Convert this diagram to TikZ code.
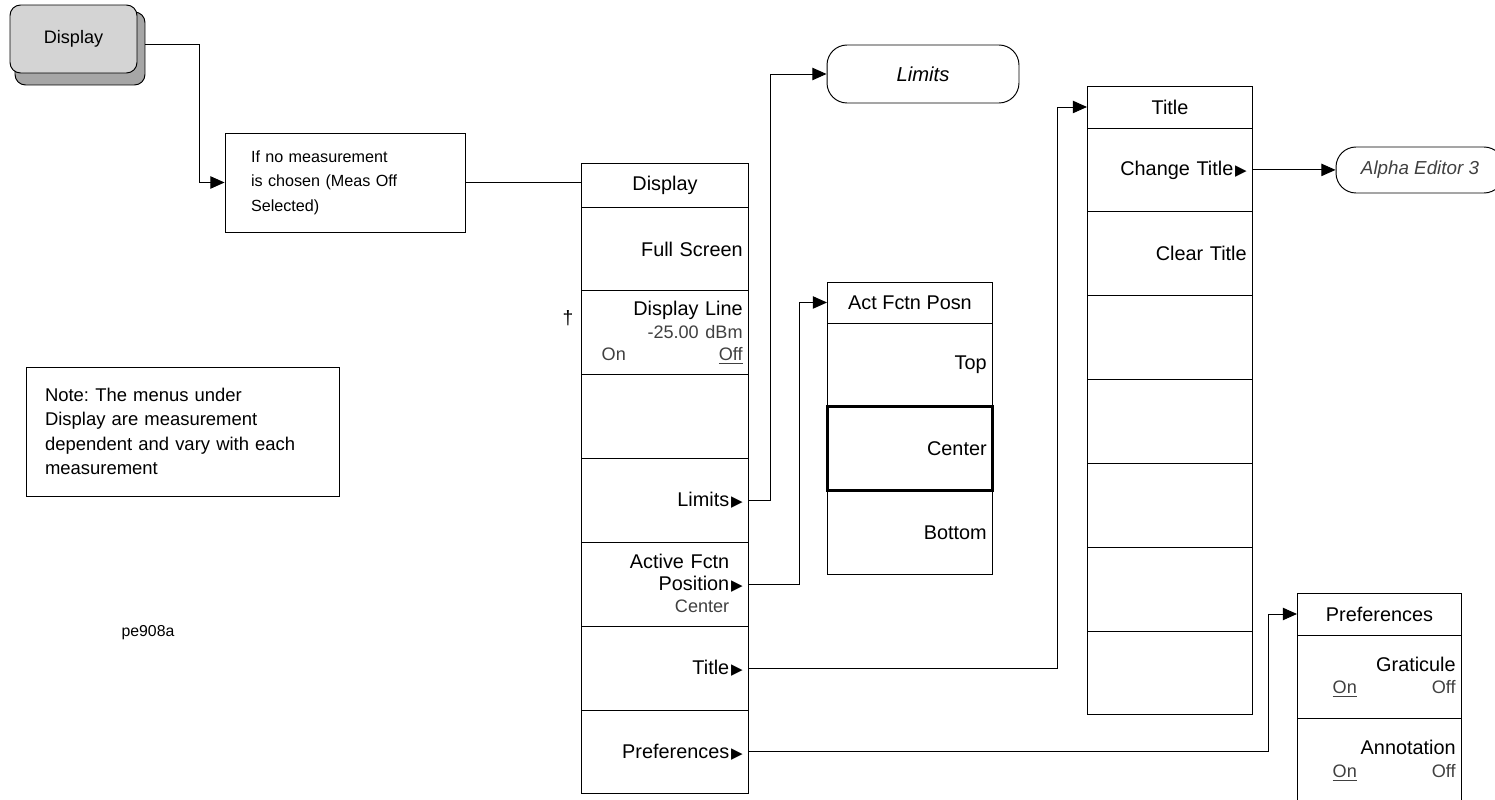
\documentclass[tikz,border=0pt]{standalone}
\usepackage{fontspec}
\setmainfont{Liberation Sans}
\newfontfamily\symfont{DejaVu Sans}
\usetikzlibrary{positioning,arrows.meta,calc}
\frenchspacing
\newcommand\menufont{\fontsize{11.3}{12.8}\selectfont}
\newcommand\valfont{\fontsize{10.3}{12.8}\selectfont\color{black!75}}
\newcommand\subarr{\kern1pt{\symfont\fontsize{8.6}{8.6}\selectfont ▶}}
\newcommand\nosub{\phantom{\subarr}}
\newcommand\onoff[3]{\makebox[#1]{#2\hfill#3}}
\tikzset{
  menuhead/.style={draw,line width=0.55pt,outer sep=0pt,inner sep=0pt,minimum width=#1,font=\menufont},
  menuhead/.default=3.32cm,
  softkey/.style={draw,line width=0.55pt,outer sep=0pt,text width=#1,inner xsep=3.4pt,inner ysep=0pt,minimum height=1.677cm,align=right,font=\menufont},
  softkey/.default=87.3pt,
  flow/.style={line width=0.55pt,-{Triangle[length=8pt,width=7pt]}},
  link/.style={line width=0.55pt},
  oval/.style={draw,line width=0.55pt,rounded corners=0.4cm,inner sep=0pt},
  notebox/.style={draw,line width=0.55pt,align=left,inner ysep=0pt}
}
\begin{document}
\begin{tikzpicture}[x=0.02cm,y=-0.02cm]
\useasboundingbox (0,0) rectangle (1495,800);
% hardkey
\node[draw,line width=0.55pt,fill=black!35,rounded corners=6pt,minimum width=2.6cm,minimum height=1.46cm] (hwshadow) at (80,48.5) {};
\node[draw,line width=0.55pt,fill=black!17,rounded corners=6pt,minimum width=2.54cm,minimum height=1.36cm,font=\fontsize{10.3}{12}\selectfont] (hw) at (73.5,39) {Display};
% notes
\node[notebox,inner xsep=0.52cm,text width=3.78cm,minimum height=1.98cm,font=\fontsize{9.2}{13.9}\selectfont] (ifbox) at (345.5,182.5) {If no measurement\\is chosen (Meas Off\\Selected)};
\node[notebox,inner xsep=0.38cm,text width=5.52cm,minimum height=2.58cm,font=\fontsize{10.5}{14}\selectfont] (note) at (183,431.5) {Note: The menus under\\Display are measurement\\dependent and vary with each\\measurement};
\node[font=\fontsize{9}{10}\selectfont] (figid) at (148,633) {pe908a};
\node[font=\fontsize{11}{12}\selectfont] (dag) at (568,318) {†};
% display menu
\node[menuhead=3.36cm,minimum height=0.88cm,anchor=north west] (dh) at (581,163) {Display};
\node[softkey=88.4pt,below=0pt of dh] (d1) {Full Screen};
\node[softkey=88.4pt,below=0pt of d1] (d2) {Display Line\\{\valfont -25.00 dBm}\\{\valfont\onoff{2.82cm}{On}{\underline{Off}}}};
\node[softkey=88.4pt,below=0pt of d2] (d3) {};
\node[softkey=88.4pt,below=0pt of d3] (d4) {Limits\subarr};
\node[softkey=88.4pt,below=0pt of d4] (d5) {Active Fctn\nosub\\Position\subarr\\{\valfont Center}\nosub};
\node[softkey=88.4pt,below=0pt of d5] (d6) {Title\subarr};
\node[softkey=88.4pt,below=0pt of d6] (d7) {Preferences\subarr};
% limits
\node[oval,minimum width=3.84cm,minimum height=1.16cm,font=\itshape\fontsize{11.5}{12}\selectfont] (limits) at (923,74) {Limits};
% act fctn posn menu
\node[menuhead,minimum height=0.82cm,anchor=north west] (ah) at (827,282) {Act Fctn Posn};
\node[softkey,below=0pt of ah] (a1) {Top};
\node[softkey,below=0pt of a1] (a2) {Center};
\node[softkey,below=0pt of a2] (a3) {Bottom};
\draw[line width=1.6pt] (a2.north west) rectangle (a2.south east);
% title menu
\node[menuhead,minimum height=0.84cm,anchor=north west] (th) at (1087,86) {Title};
\node[softkey,below=0pt of th] (t1) {Change Title\subarr};
\node[softkey,below=0pt of t1] (t2) {Clear Title};
\foreach \i [evaluate=\i as \prev using int(\i-1)] in {3,...,7}
  \node[softkey,below=0pt of t\prev] (t\i) {};
\node[oval,minimum width=3.36cm,minimum height=0.92cm,font=\itshape\fontsize{10.7}{12}\selectfont,text=black!75] (alpha) at (1420,170) {Alpha Editor 3};
% preferences menu
\node[menuhead=3.3cm,minimum height=0.84cm,anchor=north west] (ph) at (1297,593) {Preferences};
\node[softkey=86.7pt,below=0pt of ph] (p1) {Graticule\\{\valfont\onoff{2.46cm}{\underline{On}}{Off}}};
\node[softkey=86.7pt,below=0pt of p1] (p2) {Annotation\\{\valfont\onoff{2.46cm}{\underline{On}}{Off}}};
% connectors
\draw[flow] ($(hwshadow.east)+(0,-4)$) -| ($(ifbox.west)+(-25,0)$) -- (ifbox.west);
\draw[link] (ifbox.east) -- (ifbox.east -| dh.west);
\draw[flow] (d4.east) -- ++(22,0) |- (limits.west);
\draw[flow] (d5.east) -- ++(51,0) |- (ah.west);
\draw[flow] (d6.east) -- ++(309,0) |- (th.west);
\draw[flow] (t1.east) -- (t1.east -| alpha.west);
\draw[flow] (d7.east) -- ++(520,0) |- (ph.west);
\end{tikzpicture}
\end{document}
